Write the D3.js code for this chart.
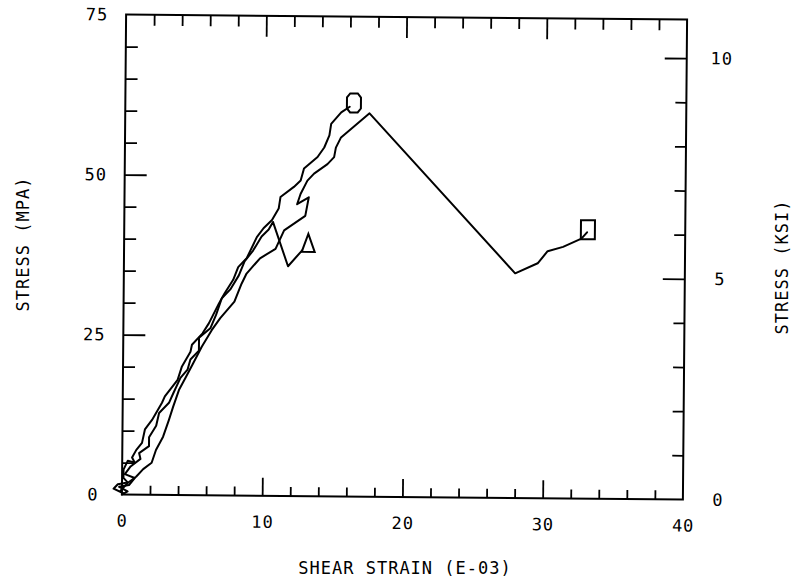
<!DOCTYPE html>
<html>
<head>
<meta charset="utf-8">
<script src="https://cdn.jsdelivr.net/npm/d3@7"></script>
<style>
  body { margin: 0; background: #fff; }
  svg text { font-family: "DejaVu Sans Mono", monospace; fill: #000; letter-spacing: 1px; }
</style>
</head>
<body>
<div id="chart"></div>
<script>
// ── Data (shear strain E-03, stress MPa) ────────────────────────────────
const octagonCurve = [
  [0.1, 0.2], [-0.6, 0.9], [-0.3, 1.6], [0.4, 1.9], [0.1, 2.6], [0.1, 3.9],
  [0.4, 5.3], [0.9, 5.0], [0.7, 5.8], [1.0, 7.0], [1.4, 8.1], [1.6, 10.2],
  [2.1, 11.7], [2.8, 14.4], [3.0, 15.4], [3.9, 18.0], [4.2, 20.1], [4.8, 22.4],
  [4.9, 23.5], [5.65, 25.3], [6.1, 26.9], [6.8, 30.0], [7.2, 31.6], [7.8, 33.7],
  [8.15, 35.7], [8.75, 37.1], [9.46, 40.4], [9.93, 41.8], [10.53, 43.1], [11.0, 44.9],
  [11.12, 46.7], [12.07, 48.3], [12.55, 49.3], [12.78, 51.2], [13.74, 53.0], [14.21, 54.5],
  [14.57, 56.4], [14.69, 58.2], [15.4, 60.0], [16.0, 60.9]
];

const triangleCurve = [
  [0.0, 0.0], [0.4, 0.5], [-0.2, 1.2], [0.5, 1.5], [0.9, 2.6], [0.2, 3.2],
  [0.6, 4.4], [1.3, 5.6], [1.2, 6.5], [1.9, 7.6], [1.9, 9.0], [2.4, 10.8],
  [2.6, 12.8], [3.3, 14.4], [3.6, 15.9], [4.1, 18.3], [4.6, 19.6], [4.8, 21.2],
  [5.4, 22.6], [5.4, 24.6], [6.2, 26.1], [6.6, 28.2], [7.0, 30.8], [7.6, 32.2],
  [8.2, 34.4], [8.6, 36.6], [9.2, 38.3], [9.8, 40.5], [10.3, 41.6], [10.6, 42.8],
  [11.7, 35.9], [12.7, 38.4]
];

const squareCurve = [
  [-0.1, 0.6], [0.4, 1.8], [1.0, 2.8], [1.5, 4.0], [2.1, 5.0], [2.4, 7.0],
  [2.9, 9.1], [3.3, 11.7], [3.6, 13.8], [4.0, 16.4], [4.5, 18.5], [5.0, 20.6],
  [5.6, 23.2], [6.3, 25.8], [6.9, 27.7], [7.9, 30.3], [8.4, 33.1], [8.75, 34.7],
  [9.7, 37.1], [10.8, 38.6], [11.4, 41.5], [12.9, 43.8], [13.14, 46.7], [12.31, 45.6],
  [12.55, 47.2], [13.03, 49.3], [13.5, 50.4], [14.45, 51.9], [14.92, 53.0], [15.04, 54.5],
  [15.4, 56.1], [17.42, 59.9], [27.9, 35.1], [29.5, 36.7], [30.2, 38.6], [31.3, 39.3],
  [32.6, 40.6], [33.0, 41.6]
];

// end markers [strain, stress]
const octagonMark  = [16.3, 61.5];
const triangleMark = [13.13, 39.5];
const squareMark   = [33.06, 42.0];

const xTickLabels   = [0, 10, 20, 30, 40];
const mpaTickLabels = [0, 25, 50, 75];
const ksiTickLabels = [0, 5, 10];

const MPA_PER_KSI = 6.894757;

// ── Layout ──────────────────────────────────────────────────────────────
const W = 795, H = 582;
const frame = { left: 124, right: 685, top: 17, bottom: 497 };
const cx = (frame.left + frame.right) / 2, cy = (frame.top + frame.bottom) / 2;

const svg = d3.select("#chart").append("svg")
  .attr("width", W).attr("height", H);

// the scanned plot sits slightly tilted
const g = svg.append("g").attr("transform", `rotate(0.5, ${cx}, ${cy})`);

// ── Scales ──────────────────────────────────────────────────────────────
const x = d3.scaleLinear().domain([0, 40]).range([frame.left, frame.right]);
const y = d3.scaleLinear().domain([0, 75]).range([frame.bottom, frame.top]);
const yKsi = d3.scaleLinear().domain([0, 75 / MPA_PER_KSI]).range([frame.bottom, frame.top]);

// ── Frame ───────────────────────────────────────────────────────────────
g.append("rect")
  .attr("x", frame.left).attr("y", frame.top)
  .attr("width", frame.right - frame.left).attr("height", frame.bottom - frame.top)
  .attr("fill", "none").attr("stroke", "#000").attr("stroke-width", 2);

function styleAxis(sel) {
  sel.select(".domain").remove();
  sel.selectAll(".tick line").attr("stroke", "#000").attr("stroke-width", 1.8);
  sel.selectAll("text").style("font-size", "17px").style("fill", "#000")
    .style("font-family", "'DejaVu Sans Mono', monospace");
}

const xMinor = d3.range(2, 40, 2).filter(v => v % 10 !== 0);
const xMajor = [10, 20, 30];

// bottom
g.append("g").attr("transform", `translate(0,${frame.bottom})`)
  .call(d3.axisBottom(x).tickValues(xMinor).tickSize(-9).tickFormat(""))
  .call(styleAxis);
g.append("g").attr("transform", `translate(0,${frame.bottom})`)
  .call(d3.axisBottom(x).tickValues(xMajor).tickSize(-18).tickFormat(""))
  .call(styleAxis);
g.append("g").attr("transform", `translate(0,${frame.bottom})`)
  .call(d3.axisBottom(x).tickValues(xTickLabels).tickSize(0).tickPadding(20).tickFormat(d3.format("d")))
  .call(styleAxis);

// top
g.append("g").attr("transform", `translate(0,${frame.top})`)
  .call(d3.axisTop(x).tickValues(xMinor).tickSize(-11).tickFormat(""))
  .call(styleAxis);
g.append("g").attr("transform", `translate(0,${frame.top})`)
  .call(d3.axisTop(x).tickValues(xMajor).tickSize(-21).tickFormat(""))
  .call(styleAxis);

// left (MPa)
const mpaMinor = d3.range(5, 75, 5).filter(v => v % 25 !== 0);
g.append("g").attr("transform", `translate(${frame.left},0)`)
  .call(d3.axisLeft(y).tickValues(mpaMinor).tickSize(-12).tickFormat(""))
  .call(styleAxis);
g.append("g").attr("transform", `translate(${frame.left},0)`)
  .call(d3.axisLeft(y).tickValues([25, 50]).tickSize(-22).tickFormat(""))
  .call(styleAxis);
g.append("g").attr("transform", `translate(${frame.left},0)`)
  .call(d3.axisLeft(y).tickValues(mpaTickLabels).tickSize(0).tickPadding(29).tickFormat(d3.format("d")))
  .call(styleAxis)
  .selectAll("text").attr("text-anchor", "middle");

// right (ksi)
const ksiMinor = d3.range(1, 11, 1).filter(v => v % 5 !== 0);
g.append("g").attr("transform", `translate(${frame.right},0)`)
  .call(d3.axisRight(yKsi).tickValues(ksiMinor).tickSize(-11).tickFormat(""))
  .call(styleAxis);
g.append("g").attr("transform", `translate(${frame.right},0)`)
  .call(d3.axisRight(yKsi).tickValues([5, 10]).tickSize(-22).tickFormat(""))
  .call(styleAxis);
g.append("g").attr("transform", `translate(${frame.right},0)`)
  .call(d3.axisRight(yKsi).tickValues(ksiTickLabels).tickSize(0).tickPadding(35).tickFormat(d3.format("d")))
  .call(styleAxis)
  .selectAll("text").attr("text-anchor", "middle");

// ── Curves ──────────────────────────────────────────────────────────────
const line = d3.line().x(d => x(d[0])).y(d => y(d[1]));
[octagonCurve, triangleCurve, squareCurve].forEach(c => {
  g.append("path").datum(c)
    .attr("d", line)
    .attr("fill", "none").attr("stroke", "#000")
    .attr("stroke-width", 2).attr("stroke-linejoin", "round").attr("stroke-linecap", "round");
});

// ── End markers ─────────────────────────────────────────────────────────
function markerPath(type, px, py) {
  const a = 7, b = 9.5;
  if (type === "octagon") {
    const c = 3.2, e = 4;
    return `M${px - a + c},${py - b} L${px + a - c},${py - b} L${px + a},${py - b + e} L${px + a},${py + b - e}
            L${px + a - c},${py + b} L${px - a + c},${py + b} L${px - a},${py + b - e} L${px - a},${py - b + e} Z`;
  }
  if (type === "triangle") {
    return `M${px},${py - b} L${px + 6.5},${py + 8.5} L${px - 6.5},${py + 8.5} Z`;
  }
  return `M${px - a},${py - b} L${px + a},${py - b} L${px + a},${py + b} L${px - a},${py + b} Z`;
}
[["octagon", octagonMark], ["triangle", triangleMark], ["square", squareMark]].forEach(([t, m]) => {
  g.append("path")
    .attr("d", markerPath(t, x(m[0]), y(m[1])))
    .attr("fill", "none").attr("stroke", "#000").attr("stroke-width", 2);
});

// ── Axis titles ─────────────────────────────────────────────────────────
svg.append("text")
  .attr("x", 405).attr("y", 574)
  .attr("text-anchor", "middle")
  .style("font-size", "17px")
  .text("SHEAR STRAIN (E-03)");

svg.append("text")
  .attr("transform", "translate(29,244) rotate(-90)")
  .attr("text-anchor", "middle")
  .style("font-size", "17px")
  .text("STRESS (MPA)");

svg.append("text")
  .attr("transform", "translate(788,267) rotate(-90)")
  .attr("text-anchor", "middle")
  .style("font-size", "17px")
  .text("STRESS (KSI)");
</script>
</body>
</html>
